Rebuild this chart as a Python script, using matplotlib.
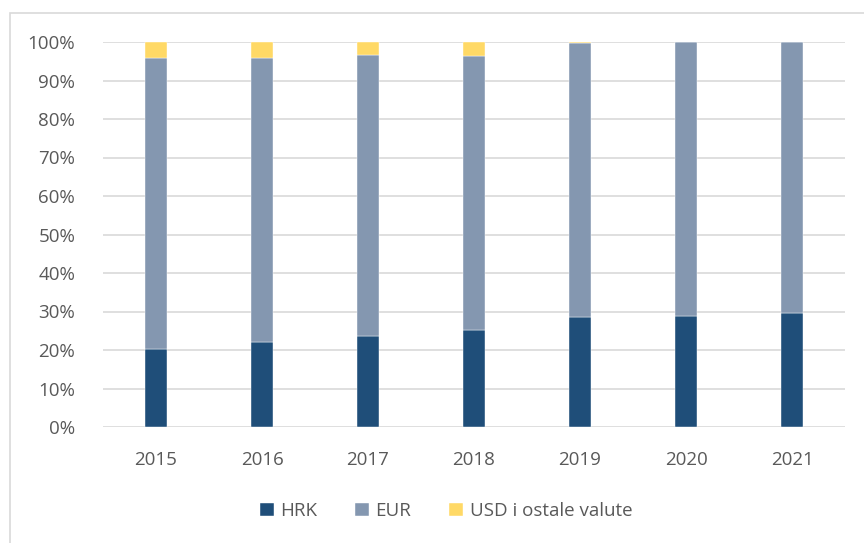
import matplotlib.pyplot as plt
import matplotlib.patches as patches
import numpy as np

years = ['2015', '2016', '2017', '2018', '2019', '2020', '2021']
hrk = [20.3, 22.0, 23.6, 25.2, 28.7, 28.9, 29.7]
eur = [75.5, 73.9, 72.9, 71.2, 71.0, 71.0, 70.2]
usd = [4.2, 4.1, 3.5, 3.6, 0.3, 0.1, 0.1]

c_hrk = '#1F4E79'
c_eur = '#8497B0'
c_usd = '#FFD966'
txt = '#595959'

plt.rcParams['font.family'] = ['Open Sans', 'DejaVu Sans']

fig = plt.figure(figsize=(8.64, 5.43), dpi=100)
ax = fig.add_axes([103 / 864, 1 - 427 / 543, 742 / 864, 385 / 543])

x = np.arange(len(years))
w = 0.21
bottom2 = np.array(hrk) + np.array(eur)
ax.bar(x, hrk, w, color=c_hrk, label='HRK', edgecolor='white', linewidth=0.3, zorder=3)
ax.bar(x, eur, w, bottom=hrk, color=c_eur, label='EUR', edgecolor='white', linewidth=0.3, zorder=3)
ax.bar(x, usd, w, bottom=bottom2, color=c_usd, label='USD i ostale valute', edgecolor='white', linewidth=0.3, zorder=3)

ax.set_xlim(-0.5, len(years) - 0.5)
ax.set_ylim(0, 100)
ax.set_yticks(range(0, 101, 10))
ax.set_yticklabels([f'{v}%' for v in range(0, 101, 10)])
ax.set_xticks(x)
ax.set_xticklabels(years)
ax.yaxis.grid(True, color='#D9D9D9', linewidth=1.2, zorder=0)
ax.set_axisbelow(True)
for s in ax.spines.values():
    s.set_visible(False)
ax.tick_params(length=0, labelsize=13.5, colors=txt)
ax.tick_params(axis='x', pad=17)
ax.tick_params(axis='y', pad=20)

leg = fig.legend(loc='center', bbox_to_anchor=(446 / 864, 1 - 511 / 543), ncol=3, frameon=False,
                 fontsize=13.5, handlelength=0.75, handleheight=0.75, columnspacing=2.0, handletextpad=0.35)
for t in leg.get_texts():
    t.set_color(txt)

fig.patches.append(patches.Rectangle((10 / 864, -0.05), 1.1, 1 - 13 / 543 + 0.05, transform=fig.transFigure,
                                     fill=False, edgecolor='#D9D9D9', linewidth=1.2))

fig.savefig('out.png', dpi=100)
